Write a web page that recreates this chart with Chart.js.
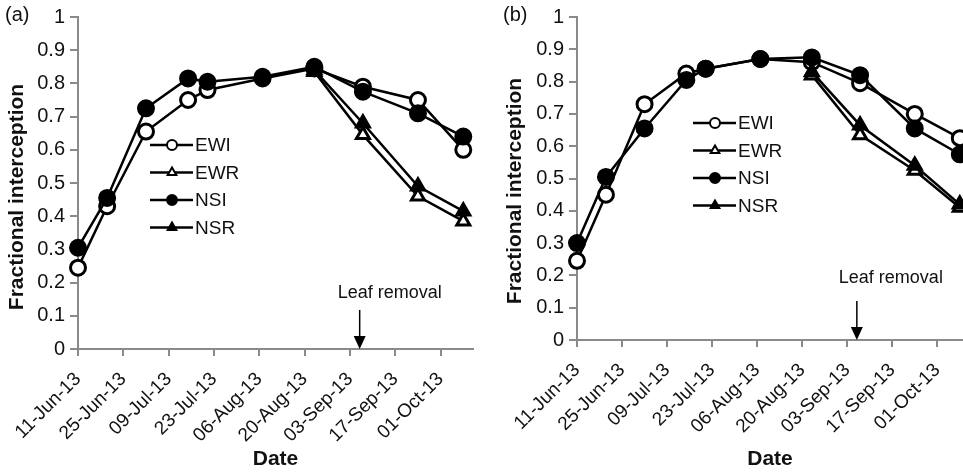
<!DOCTYPE html>
<html>
<head>
<meta charset="utf-8">
<title>Fractional interception</title>
<script src="https://cdn.jsdelivr.net/npm/chart.js@4/dist/chart.umd.min.js"></script>
<style>
    html, body { margin: 0; padding: 0; background: #fff; }
    #wrap { position: relative; width: 963px; height: 474px; overflow: hidden; }
    .panel { position: absolute; top: 0; }
</style>
</head>
<body>
<div id="wrap">
    <div class="panel" style="left:0"><canvas id="chartA" width="480" height="474"></canvas></div>
    <div class="panel" style="left:480px"><canvas id="chartB" width="483" height="474"></canvas></div>
</div>
<script>
// sampling dates as days after 11-Jun-13
const sampleDays = [0, 9, 21, 34, 40, 57, 73, 88, 105, 119];
const tickDays = [0, 14, 28, 42, 56, 70, 84, 98, 112];
const tickLabels = ['11-Jun-13', '25-Jun-13', '09-Jul-13', '23-Jul-13', '06-Aug-13',
                    '20-Aug-13', '03-Sep-13', '17-Sep-13', '01-Oct-13'];
const yTicks = [0, 0.1, 0.2, 0.3, 0.4, 0.5, 0.6, 0.7, 0.8, 0.9, 1];
const yTickLabels = ['0', '0.1', '0.2', '0.3', '0.4', '0.5', '0.6', '0.7', '0.8', '0.9', '1'];
const seriesNames = ['EWI', 'EWR', 'NSI', 'NSR'];
const leafRemovalDay = 87;

// panel (a)
const ewiA = [0.245, 0.43, 0.655, 0.75, 0.78, 0.815, 0.845, 0.79, 0.75, 0.60];
const ewrA = [null, null, null, null, null, null, 0.835, 0.645, 0.46, 0.385];
const nsiA = [0.305, 0.455, 0.725, 0.815, 0.805, 0.82, 0.85, 0.775, 0.71, 0.64];
const nsrA = [null, null, null, null, null, null, 0.84, 0.68, 0.49, 0.415];

// panel (b)
const ewiB = [0.245, 0.45, 0.73, 0.825, 0.84, 0.87, 0.86, 0.795, 0.70, 0.625];
const ewrB = [null, null, null, null, null, null, 0.82, 0.635, 0.525, 0.41];
const nsiB = [0.30, 0.505, 0.655, 0.805, 0.84, 0.87, 0.875, 0.82, 0.655, 0.575];
const nsrB = [null, null, null, null, null, null, 0.83, 0.665, 0.54, 0.42];

const FONT = '"Liberation Sans", Arial, Helvetica, sans-serif';
const AXIS_GREY = '#8a8a8a';

// marker look per series: open/filled circle, open/filled triangle
const markerStyles = [
    { pointStyle: 'circle',   fill: '#fff' },
    { pointStyle: 'triangle', fill: '#fff' },
    { pointStyle: 'circle',   fill: '#000' },
    { pointStyle: 'triangle', fill: '#000' }
];

// draws the panel letter, y title, inner legend and the leaf removal arrow
const panelDeco = {
    id: 'panelDeco',
    afterDraw(chart, args, opts) {
        const ctx = chart.ctx;
        const area = chart.chartArea;
        ctx.save();

        // panel letter
        ctx.fillStyle = '#111';
        ctx.font = '20px ' + FONT;
        ctx.textAlign = 'left';
        ctx.textBaseline = 'middle';
        ctx.fillText(opts.letter, opts.letterX, 15);

        // y title
        ctx.save();
        ctx.translate(opts.yTitleX, opts.yTitleY);
        ctx.rotate(-Math.PI / 2);
        ctx.font = 'bold 21px ' + FONT;
        ctx.textAlign = 'center';
        ctx.fillText('Fractional interception', 0, 0);
        ctx.restore();

        // legend
        chart.data.datasets.forEach((ds, i) => {
            const y = opts.legendY + i * 27.5;
            const x0 = opts.legendX;
            ctx.strokeStyle = '#000';
            ctx.lineWidth = 2.4;
            ctx.beginPath();
            ctx.moveTo(x0, y);
            ctx.lineTo(x0 + 43, y);
            ctx.stroke();
            ctx.fillStyle = ds.pointBackgroundColor;
            ctx.lineWidth = 2;
            Chart.helpers.drawPoint(ctx, {
                pointStyle: ds.pointStyle, radius: 5, rotation: 0, borderWidth: 2
            }, x0 + 22, y);
            ctx.fillStyle = '#111';
            ctx.font = '19px ' + FONT;
            ctx.textAlign = 'left';
            ctx.textBaseline = 'middle';
            ctx.fillText(ds.label, x0 + 45, y + 1);
        });

        // leaf removal arrow
        const ax = chart.scales.x.getPixelForValue(leafRemovalDay);
        ctx.strokeStyle = '#000';
        ctx.fillStyle = '#000';
        ctx.lineWidth = 1.5;
        ctx.beginPath();
        ctx.moveTo(ax, area.bottom - 39);
        ctx.lineTo(ax, area.bottom - 10);
        ctx.stroke();
        ctx.beginPath();
        ctx.moveTo(ax - 6, area.bottom - 13);
        ctx.lineTo(ax + 6, area.bottom - 13);
        ctx.lineTo(ax, area.bottom);
        ctx.closePath();
        ctx.fill();
        ctx.fillStyle = '#111';
        ctx.font = '18px ' + FONT;
        ctx.textAlign = 'center';
        ctx.textBaseline = 'middle';
        ctx.fillText('Leaf removal', ax + opts.textShift, area.bottom - opts.textRise);

        ctx.restore();
    }
};

function buildDatasets(seriesList) {
    return seriesList.map((values, i) => ({
        label: seriesNames[i],
        data: sampleDays.map((d, j) => ({ x: d, y: values[j] })),
        order: seriesList.length - i,   // later series on top
        borderColor: '#000',
        borderWidth: 2.5,
        pointStyle: markerStyles[i].pointStyle,
        pointBackgroundColor: markerStyles[i].fill,
        pointBorderColor: '#000',
        pointBorderWidth: 3,
        pointRadius: 7.5,
        pointHoverRadius: 7.5,
        tension: 0,
        spanGaps: false,
        clip: false
    }));
}

function makeChart(canvasId, seriesList, cfg) {
    const ctx = document.getElementById(canvasId).getContext('2d');
    return new Chart(ctx, {
        type: 'line',
        data: { datasets: buildDatasets(seriesList) },
        plugins: [panelDeco],
        options: {
            responsive: false,
            animation: false,
            devicePixelRatio: 1,
            layout: {
                autoPadding: false,
                padding: { left: 0, top: 15, right: cfg.padRight, bottom: 0 }
            },
            plugins: {
                legend: { display: false },
                tooltip: { enabled: false },
                panelDeco: cfg.deco
            },
            scales: {
                x: {
                    type: 'linear',
                    min: 0,
                    max: cfg.xMax,
                    afterBuildTicks: scale => { scale.ticks = tickDays.map(v => ({ value: v })); },
                    afterFit: scale => {
                        scale.height = cfg.xHeight;
                        scale.paddingLeft = 0;
                        scale.paddingRight = 0;
                    },
                    ticks: {
                        autoSkip: false,
                        minRotation: 45,
                        maxRotation: 45,
                        padding: 12,
                        color: '#111',
                        font: { family: FONT, size: 19 },
                        callback: v => tickLabels[tickDays.indexOf(v)]
                    },
                    grid: { drawOnChartArea: false, drawTicks: true, tickLength: 7, color: AXIS_GREY, lineWidth: 2 },
                    border: { color: AXIS_GREY, width: 2 },
                    title: {
                        display: true,
                        text: 'Date',
                        color: '#111',
                        font: { family: FONT, size: 21, weight: 'bold' },
                        padding: { top: 0, bottom: 2 }
                    }
                },
                y: {
                    min: 0,
                    max: 1,
                    afterBuildTicks: scale => { scale.ticks = yTicks.map(v => ({ value: v })); },
                    afterFit: scale => { scale.width = cfg.yWidth; },
                    ticks: {
                        padding: 5,
                        color: '#111',
                        font: { family: FONT, size: 20 },
                        callback: v => yTickLabels[yTicks.indexOf(v)]
                    },
                    grid: { drawOnChartArea: false, drawTicks: true, tickLength: 8, color: AXIS_GREY, lineWidth: 2 },
                    border: { color: AXIS_GREY, width: 2 }
                }
            }
        }
    });
}

makeChart('chartA', [ewiA, ewrA, nsiA, nsrA], {
    padRight: 7, xMax: 122, xHeight: 125, yWidth: 78,
    deco: { letter: '(a)', letterX: 5, yTitleX: 17, yTitleY: 197,
            legendX: 150, legendY: 145, textShift: 30, textRise: 56 }
});

makeChart('chartB', [ewiB, ewrB, nsiB, nsrB], {
    padRight: 0, xMax: 120, xHeight: 134, yWidth: 97,
    deco: { letter: '(b)', letterX: 23, yTitleX: 35, yTitleY: 191,
            legendX: 213, legendY: 123, textShift: 34, textRise: 62 }
});
</script>
</body>
</html>
